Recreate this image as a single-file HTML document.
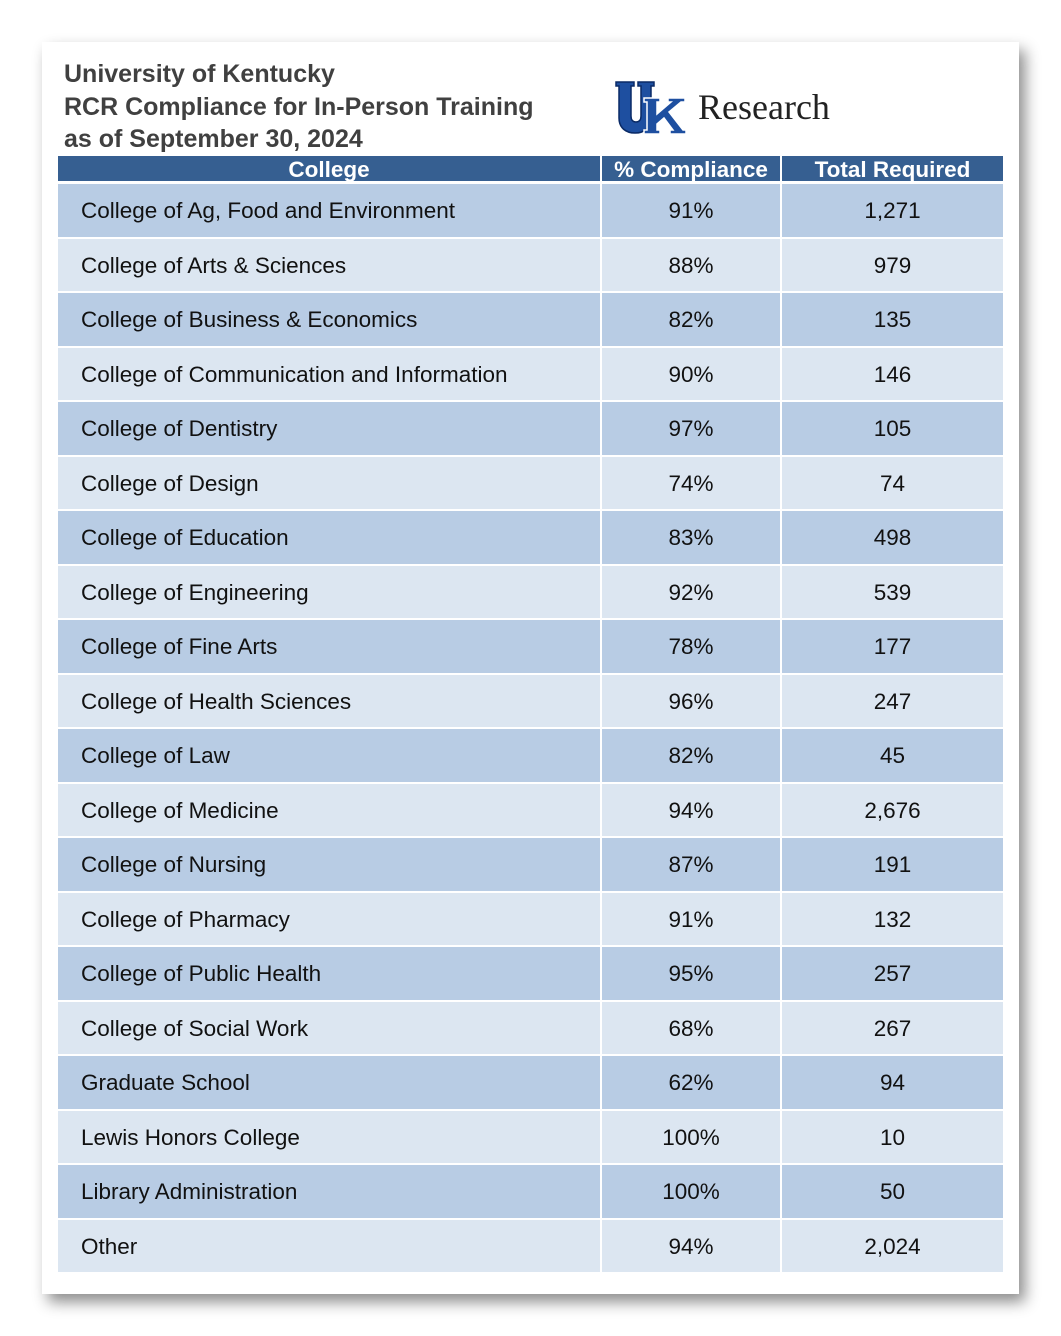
<!DOCTYPE html>
<html><head><meta charset="utf-8">
<style>
html,body{margin:0;padding:0;background:#fff;}
body{width:1061px;height:1336px;position:relative;overflow:hidden;font-family:"Liberation Sans",Arial,sans-serif;}
#card{position:absolute;left:42px;top:42px;width:977px;height:1252px;background:#fff;box-shadow:6px 8px 14px rgba(0,0,0,0.45);}
.title{position:absolute;left:64px;color:#404040;font-weight:bold;font-size:25px;white-space:nowrap;transform-origin:0 0;transform:scaleX(1.0);}
#logo{position:absolute;left:614px;top:80px;}
#research{position:absolute;left:698px;top:86px;font-family:"Liberation Serif",serif;font-size:36px;color:#222;}
.cell{position:absolute;box-sizing:border-box;display:flex;align-items:center;font-size:22.5px;color:#111;padding-top:2px;}
.hdr{background:#365f91;color:#fff;font-weight:bold;justify-content:center;font-size:22.5px;padding-top:2px;}
</style></head><body>
<div id="card"></div>
<div class="title" style="top:60px">University of Kentucky</div>
<div class="title" style="top:93px">RCR Compliance for In-Person Training</div>
<div class="title" style="top:125px">as of September 30, 2024</div>
<svg id="logo" width="76" height="56" viewBox="0 0 76 56">
<path d="M2 2h18v4h-3v30c0 4 2 6 5 6s5-2 5-6V6h-3V2h16v4h-3v32c0 10-7 15-16 15S5 48 5 38V6H2z" fill="#1e4fa0" stroke="#0a2a66" stroke-width="1.5"/>
<path d="M30 18h16v4h-3v12l14-12h-3v-4h17v4h-4l-12 10 14 18h3v4H56v-4h3l-9-12-7 6v6h3v4H30v-4h3V22h-3z" fill="#1e4fa0" stroke="#fff" stroke-width="1.5"/>
</svg>
<div id="research">Research</div>
<div id="table"></div>
<script>
const colleges=["College of Ag, Food and Environment","College of Arts & Sciences","College of Business & Economics","College of Communication and Information","College of Dentistry","College of Design","College of Education","College of Engineering","College of Fine Arts","College of Health Sciences","College of Law","College of Medicine","College of Nursing","College of Pharmacy","College of Public Health","College of Social Work","Graduate School","Lewis Honors College","Library Administration","Other"];
const compliance=["91%","88%","82%","90%","97%","74%","83%","92%","78%","96%","82%","94%","87%","91%","95%","68%","62%","100%","100%","94%"];
const totals=["1,271","979","135","146","105","74","498","539","177","247","45","2,676","191","132","257","267","94","10","50","2,024"];
const headers=["College","% Compliance","Total Required"];
const cols=[[58,542],[602,178],[782,221]];
const t=document.getElementById('table');
function mk(x,y,w,h,txt,cls,bg,just,pad){
  const d=document.createElement('div');
  d.className='cell '+cls;
  d.style.cssText=`left:${x}px;top:${y}px;width:${w}px;height:${h}px;`+(bg?`background:${bg};`:'')+(just?`justify-content:${just};`:'')+(pad?`padding-left:${pad}px;`:'');
  d.textContent=txt;
  t.appendChild(d);
  return d;
}
headers.forEach((h,i)=>{
  const d=mk(cols[i][0],156,cols[i][1],25,h,'hdr');
  
  
});
const rowH=54.5, top0=184;
colleges.forEach((c,r)=>{
  const y=top0+r*rowH, bg=r%2?'#dce6f1':'#b8cce4';
  const vals=[c,compliance[r],totals[r]];
  vals.forEach((v,i)=>{
    const d=mk(cols[i][0],y,cols[i][1],rowH-2,v,'',bg,i?'center':'flex-start',i?0:23);
    
    
  });
});
</script>
</body></html>
